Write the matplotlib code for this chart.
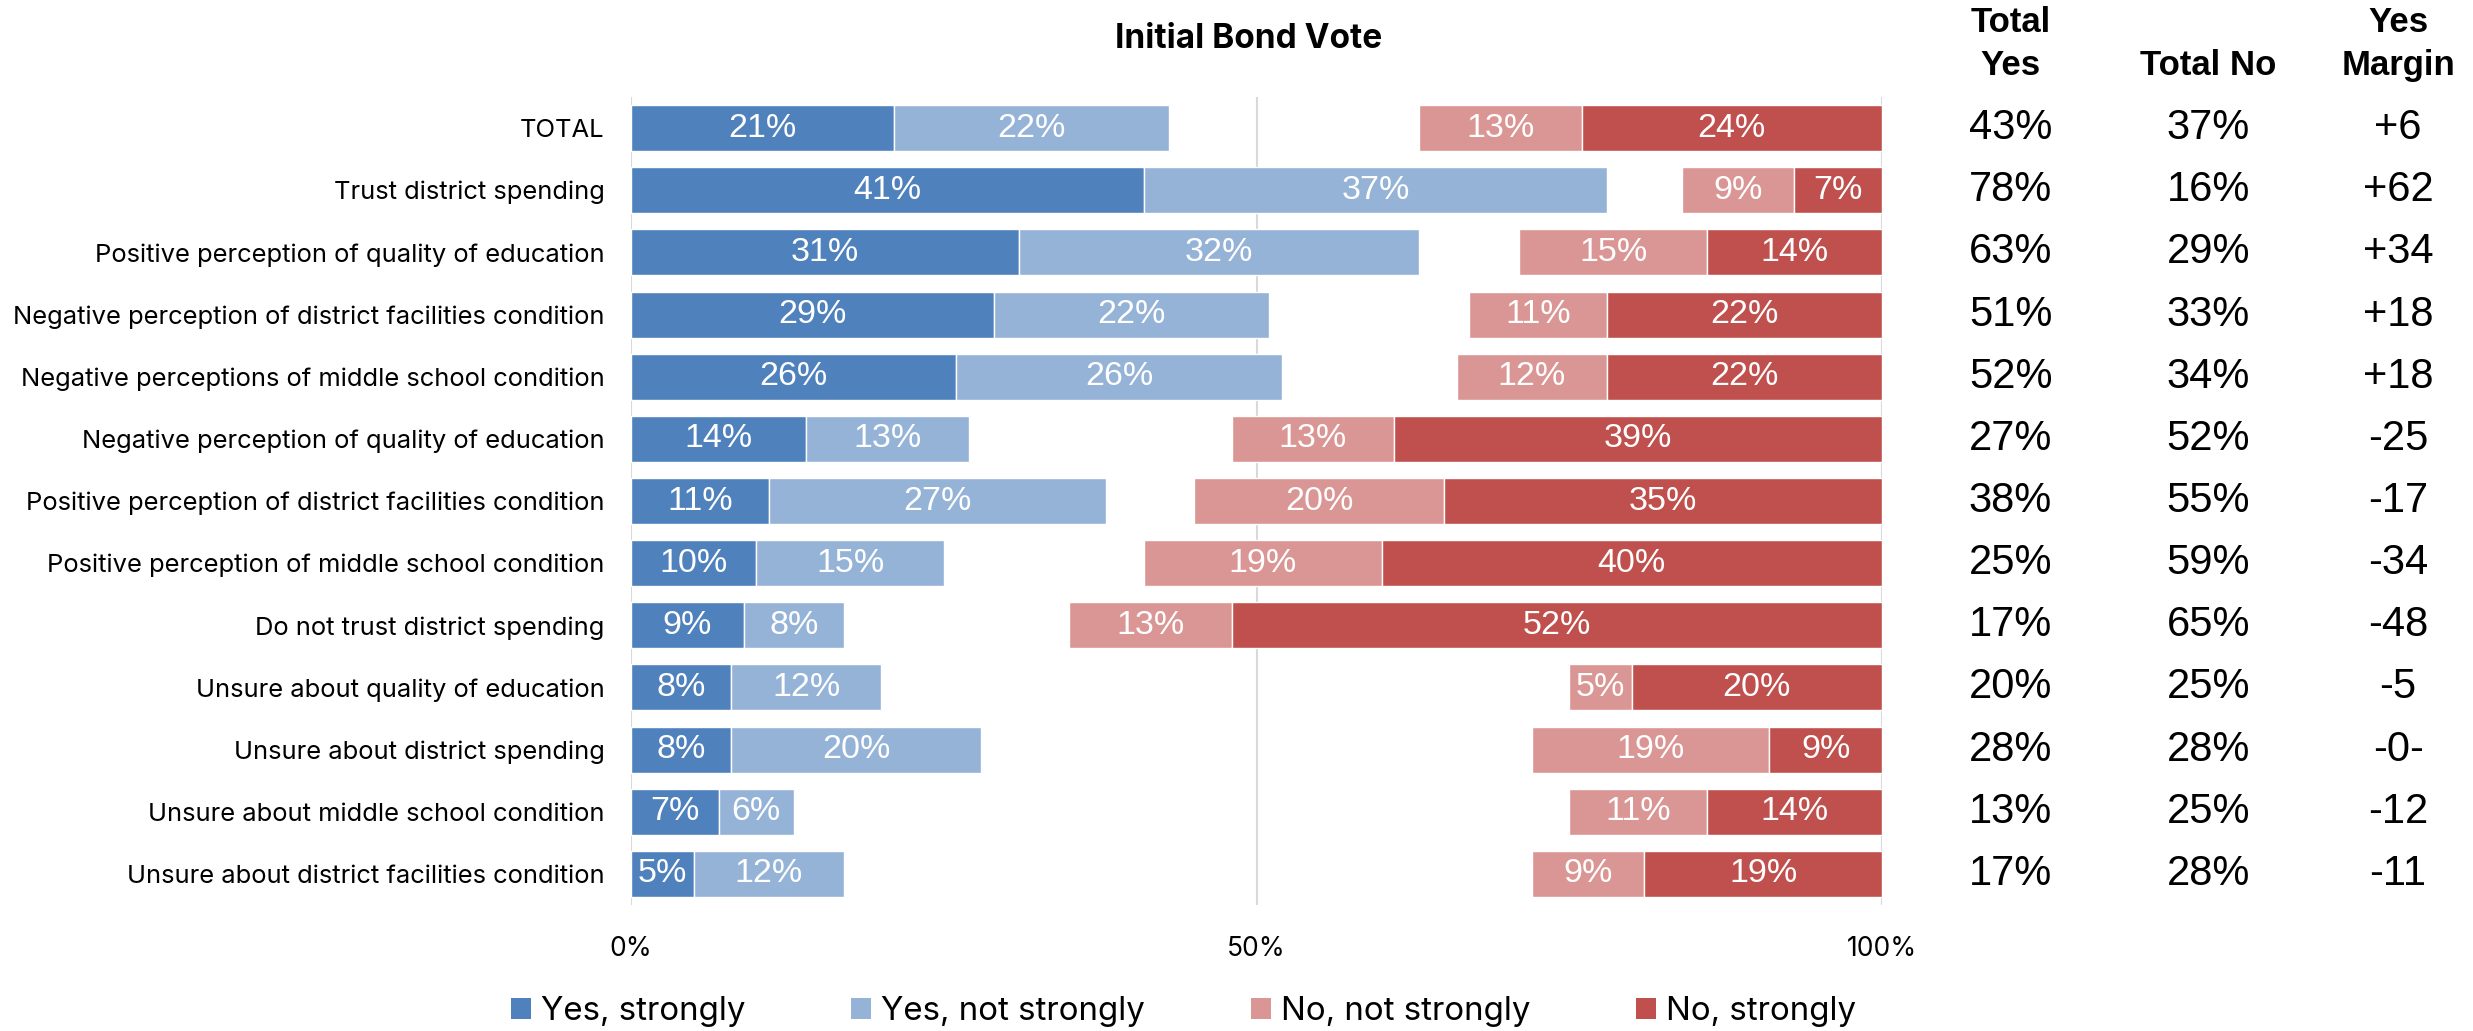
import matplotlib
matplotlib.use("Agg")
import matplotlib.pyplot as plt
from matplotlib.patches import Patch
from matplotlib.transforms import blended_transform_factory
import numpy as np

plt.rcParams['font.family'] = ['Liberation Sans', 'DejaVu Sans']
soft = ['Inter', 'DejaVu Sans']  # closest thing to the Aptos used for labels

# data
categories = [
    "TOTAL",
    "Trust district spending",
    "Positive perception of quality of education",
    "Negative perception of district facilities condition",
    "Negative perceptions of middle school condition",
    "Negative perception of quality of education",
    "Positive perception of district facilities condition",
    "Positive perception of middle school condition",
    "Do not trust district spending",
    "Unsure about quality of education",
    "Unsure about district spending",
    "Unsure about middle school condition",
    "Unsure about district facilities condition",
]
yes_strong = [21, 41, 31, 29, 26, 14, 11, 10, 9, 8, 8, 7, 5]
yes_not = [22, 37, 32, 22, 26, 13, 27, 15, 8, 12, 20, 6, 12]
no_not = [13, 9, 15, 11, 12, 13, 20, 19, 13, 5, 19, 11, 9]
no_strong = [24, 7, 14, 22, 22, 39, 35, 40, 52, 20, 9, 14, 19]
total_yes = [43, 78, 63, 51, 52, 27, 38, 25, 17, 20, 28, 13, 17]
total_no = [37, 16, 29, 33, 34, 52, 55, 59, 65, 25, 28, 25, 28]
margin = ['+6', '+62', '+34', '+18', '+18', '-25', '-17', '-34', '-48', '-5', '-0-', '-12', '-11']

series_names = ["Yes, strongly", "Yes, not strongly", "No, not strongly", "No, strongly"]
colors = ["#4F81BD", "#95B3D7", "#DA9694", "#C0504D"]

fig = plt.figure(figsize=(24.73, 10.31), dpi=100)
ax = fig.add_axes([0.2552, 0.1222, 0.5058, 0.7837])

y = np.arange(len(categories))
ys = np.array(yes_strong)
yn = np.array(yes_not)
nn = np.array(no_not)
ns = np.array(no_strong)
no_left = 100 - (nn + ns)

h = 0.74
segs = [
    (ys, np.zeros(len(y))),
    (yn, ys),
    (nn, no_left),
    (ns, no_left + nn),
]
for (w, left), c in zip(segs, colors):
    bars = ax.barh(y, w, left=left, height=h, color=c, edgecolor='white', linewidth=1)
    ax.bar_label(bars, labels=[f"{v}%" for v in w], label_type='center',
                 color='white', fontsize=24.5)

ax.set_xlim(0, 100)
ax.set_ylim(len(categories) - 0.5, -0.5)
ax.set_xticks([0, 50, 100])
ax.set_xticklabels(["0%", "50%", "100%"], fontsize=19, family=soft)
ax.set_yticks(y)
ax.set_yticklabels(categories, fontsize=18.4, family=soft)
ax.tick_params(length=0)
ax.tick_params(axis='x', pad=22)
ax.tick_params(axis='y', pad=19)
ax.xaxis.grid(True, color='#D9D9D9', linewidth=1.5)
ax.set_axisbelow(True)
for s in ax.spines.values():
    s.set_visible(False)

fig.text(0.505, 0.962, "Initial Bond Vote", ha='center', va='center',
         fontsize=24, fontweight='bold', family=soft)

# side table
trans = blended_transform_factory(fig.transFigure, ax.transData)
col_x = [0.813, 0.893, 0.9697]
fig.text(col_x[0], 0.978, "Total", ha='center', va='center', fontsize=25, fontweight='bold')
fig.text(col_x[0], 0.936, "Yes", ha='center', va='center', fontsize=25, fontweight='bold')
fig.text(col_x[1], 0.936, "Total No", ha='center', va='center', fontsize=25, fontweight='bold')
fig.text(col_x[2], 0.978, "Yes", ha='center', va='center', fontsize=25, fontweight='bold')
fig.text(col_x[2], 0.936, "Margin", ha='center', va='center', fontsize=25, fontweight='bold')
for i in range(len(categories)):
    fig.text(col_x[0], i, f"{total_yes[i]}%", transform=trans, ha='center', va='center', fontsize=30)
    fig.text(col_x[1], i, f"{total_no[i]}%", transform=trans, ha='center', va='center', fontsize=30)
    fig.text(col_x[2], i, margin[i], transform=trans, ha='center', va='center', fontsize=30)

handles = [Patch(facecolor=c) for c in colors]
fig.legend(handles, series_names, loc='center', bbox_to_anchor=(0.4786, 0.0185),
           ncol=4, frameon=False, prop={'family': soft, 'size': 23.8},
           handlelength=0.6, handleheight=0.6, handletextpad=0.3, columnspacing=3.2,
           borderpad=0)

fig.savefig("out.png", dpi=100)
